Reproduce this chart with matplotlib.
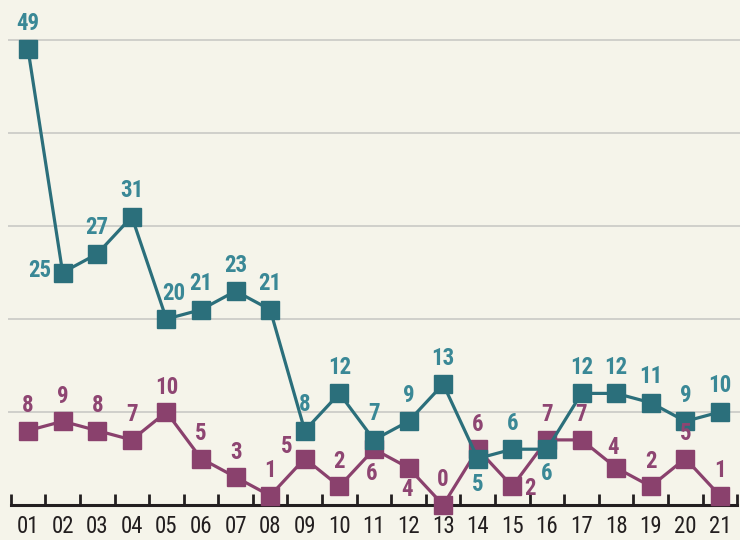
import matplotlib
matplotlib.use("Agg")
import matplotlib.pyplot as plt

# data
periods = ["01", "02", "03", "04", "05", "06", "07", "08", "09", "10", "11",
           "12", "13", "14", "15", "16", "17", "18", "19", "20", "21"]
teal_vals = [49, 25, 27, 31, 20, 21, 23, 21, 8, 12, 7, 9, 13, 5, 6, 6, 12, 12, 11, 9, 10]
plum_vals = [8, 9, 8, 7, 10, 5, 3, 1, 5, 2, 6, 4, 0, 6, 2, 7, 7, 4, 2, 5, 1]

# label offsets in pixels (dx, dy), default above the marker
teal_off = {1: (-23, 2), 4: (7, 25), 13: (0, -26), 15: (0, -24)}
plum_off = {8: (-18, 12), 10: (-2, -24), 11: (-2, -22), 14: (18, -2), 17: (-3, 20)}

BG = "#f5f4ea"
TEAL = "#2b6f7b"
TEAL_TXT = "#3a8896"
PLUM = "#8a416d"
PLUM_TXT = "#8e4572"
FONT = ["Roboto Condensed", "DejaVu Sans"]

fig = plt.figure(figsize=(7.4, 5.4), dpi=100, facecolor=BG)
ax = fig.add_axes([0, 35 / 540, 1, 505 / 540])
ax.set_facecolor(BG)
x = list(range(1, len(periods) + 1))

ax.set_xlim(0.19, 21.58)
ax.set_ylim(0, 505 / 9.3)

for g in [10, 20, 30, 40, 50]:
    ax.hlines(g, 0.42, 21.6, color="#c9c9c5", lw=1.2, zorder=1)

ax.plot(x, plum_vals, color=PLUM, lw=2.3, marker="s", ms=12.5,
        mec=PLUM, zorder=3, clip_on=False)
ax.plot(x, teal_vals, color=TEAL, lw=2.3, marker="s", ms=12.5,
        mec=TEAL, zorder=4, clip_on=False)

for i, v in enumerate(teal_vals):
    dx, dy = teal_off.get(i, (0, 26))
    ax.annotate(str(v), (x[i], v), xytext=(dx, dy), textcoords="offset pixels",
                ha="center", va="center", color=TEAL_TXT, fontsize=16.5,
                fontweight="bold", family=FONT, zorder=5)
for i, v in enumerate(plum_vals):
    dx, dy = plum_off.get(i, (0, 25))
    ax.annotate(str(v), (x[i], v), xytext=(dx, dy), textcoords="offset pixels",
                ha="center", va="center", color=PLUM_TXT, fontsize=16.5,
                fontweight="bold", family=FONT, zorder=5)

for s in ["top", "right", "left"]:
    ax.spines[s].set_visible(False)
ax.spines["bottom"].set_bounds(0.5, 21.5)
ax.spines["bottom"].set_linewidth(2.2)
ax.spines["bottom"].set_color("#231f20")
ax.spines["bottom"].set_zorder(2)

ax.set_yticks([])
ax.set_xticks([i + 0.5 for i in range(0, 22)])
ax.set_xticklabels([])
ax.tick_params(axis="x", which="major", direction="in", length=8, width=2,
               color="#231f20")
ax.set_xticks(x, minor=True)
ax.set_xticklabels(periods, minor=True, fontsize=16.5, family=FONT,
                   color="#231f20")
ax.tick_params(axis="x", which="minor", length=0, pad=7)

fig.savefig("out.png", dpi=100, facecolor=BG)
